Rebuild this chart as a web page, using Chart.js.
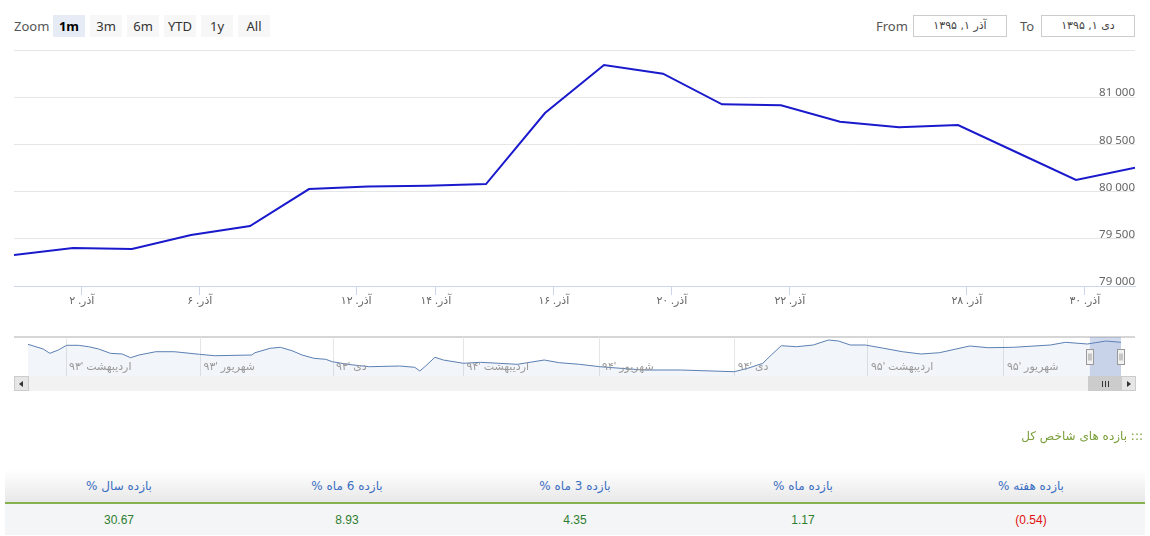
<!DOCTYPE html>
<html>
<head>
<meta charset="utf-8">
<script src="https://cdn.jsdelivr.net/npm/chart.js@4.4.1/dist/chart.umd.min.js"></script>
<style>
  body { margin:0; width:1150px; height:536px; background:#fff; position:relative; overflow:hidden;
         font-family:"Noto Sans","DejaVu Sans",sans-serif; }
  .abs { position:absolute; }
  #zoomLbl { left:14px; top:15px; line-height:22px; font-size:13px; color:#555; }
  .btn { position:absolute; top:15px; width:32px; height:22px; line-height:22px; text-align:center;
         font-size:13px; color:#333; background:#f7f7f7; }
  .btn.on { background:#e6ebf5; font-weight:bold; color:#000; }
  .lbl { position:absolute; top:15px; line-height:22px; font-size:13px; color:#555; }
  .inp { position:absolute; top:15px; width:92px; height:20px; line-height:20px; border:1px solid #ccc;
         text-align:center; font-size:11px; color:#444; font-family:"DejaVu Sans",sans-serif; }
  #main { left:0; top:0; }
  #nav { left:0; top:330px; }
  #navTop { left:14px; top:336px; width:1121px; height:2px; background:#d6d6d6; }
  #track { left:14px; top:376px; width:1121px; height:15px; background:#f2f2f2; }
  .sbtn { position:absolute; top:376px; width:13px; height:13px; background:#e6e6e6; border:1px solid #ccc; }
  .tri { position:absolute; top:4px; width:0; height:0; border-top:3px solid transparent; border-bottom:3px solid transparent; }
  #thumb { left:1088px; top:376px; width:32px; height:13px; background:#ccc; border:1px solid #ccc; }
  .rib { position:absolute; top:4px; width:1px; height:6px; background:#333; }
  #title { right:7px; top:429px; font-size:12px; color:#7a9e3a; font-family:"DejaVu Sans",sans-serif; }
  table { position:absolute; left:5px; top:470px; width:1140px; border-collapse:collapse; table-layout:fixed; }
  th { height:32px; padding:0; font-weight:normal; font-size:12px; color:#3b6ec2;
       background:linear-gradient(#ffffff,#e8e8e8); border-bottom:2px solid #84b24f; font-family:"DejaVu Sans",sans-serif; }
  td { height:31px; padding:0; text-align:center; font-size:12px; color:#2e7d32; background:#f4f5f6;
       font-family:"Liberation Sans",Arial,sans-serif; }
  td.neg { color:#e01010; }
</style>
</head>
<body>

<div class="abs" id="zoomLbl">Zoom</div>
<div class="btn on" style="left:53px">1m</div>
<div class="btn" style="left:90px">3m</div>
<div class="btn" style="left:127px">6m</div>
<div class="btn" style="left:164px">YTD</div>
<div class="btn" style="left:201px">1y</div>
<div class="btn" style="left:238px">All</div>

<div class="lbl" style="left:876px">From</div>
<div class="inp" style="left:913px">آذر ۱, ۱۳۹۵</div>
<div class="lbl" style="left:1020px">To</div>
<div class="inp" style="left:1041px">دی ۱, ۱۳۹۵</div>

<canvas class="abs" id="main" width="1150" height="320"></canvas>

<div class="abs" id="navTop"></div>
<canvas class="abs" id="nav" width="1150" height="50"></canvas>
<div class="abs" id="track"></div>
<div class="sbtn" style="left:14px"><div class="tri" style="left:4px;border-right:4px solid #333"></div></div>
<div class="abs" id="thumb">
  <div class="rib" style="left:13px"></div><div class="rib" style="left:16px"></div><div class="rib" style="left:19px"></div>
</div>
<div class="sbtn" style="left:1121px"><div class="tri" style="left:5px;border-left:4px solid #333"></div></div>

<div class="abs" id="title" dir="rtl">::: بازده های شاخص کل</div>
<table dir="rtl">
  <tr id="headRow"></tr>
  <tr id="valRow"></tr>
</table>

<script>
// ── main chart: trading days of Azar 1395 ──
const days = ['آذر ۱','آذر ۲','آذر ۳','آذر ۶','آذر ۷','آذر ۹','آذر ۱۳','آذر ۱۴','آذر ۱۵','آذر ۱۶',
              'آذر ۱۷','آذر ۲۰','آذر ۲۱','آذر ۲۲','آذر ۲۳','آذر ۲۴','آذر ۲۸','آذر ۲۹','آذر ۳۰','دی ۱'];
const indexValues = [79328, 79402, 79392, 79540, 79635, 80027, 80053, 80063, 80080, 80832,
                     81341, 81249, 80925, 80914, 80740, 80681, 80705, 80414, 80123, 80253];

// x ticks sit a bit after each date (ordinal axis), positions in trading-day units
const xTickPos = [1.15, 3.15, 5.8, 7.15, 9.15, 11.15, 13.15, 16.15, 18.15];
const xTickLabels = ['آذر. ۲','آذر. ۶','آذر. ۱۲','آذر. ۱۴','آذر. ۱۶','آذر. ۲۰','آذر. ۲۲','آذر. ۲۸','آذر. ۳۰'];
const yTicks = [79000, 79500, 80000, 80500, 81000, 81500];

// ── navigator: whole history, in trading-day index ──
const navDays = [0, 9, 13, 18, 23, 30, 36, 42, 49, 56, 61, 66, 76, 87, 102, 111, 133, 135, 144, 150,
                 157, 163, 170, 177, 181, 190, 203, 221, 230, 233, 236, 242, 247, 259, 269, 280, 291, 307, 316, 328,
                 340, 366, 388, 420, 428, 437, 442, 448, 457, 467, 476, 482, 489, 498, 509, 520, 531, 542, 560, 571,
                 586, 608, 617, 630, 641, 650];
const navValues = [79222, 76240, 73507, 75603, 78587, 78587, 77698, 76237, 73507, 73063, 70713, 72428, 74523, 74523, 72872, 71983, 72428, 73888, 76682, 77317,
                   75158, 72428, 70332, 69697, 68173, 66522, 64998, 65443, 64617, 62268, 64998, 70967, 69253, 67157, 67792, 67157, 66522, 69253, 67538, 66522,
                   64998, 62903, 62903, 61823, 63982, 67157, 72428, 78333, 77698, 78778, 81953, 81318, 78778, 78778, 76682, 74523, 73063, 73888, 78143, 77063,
                   77317, 78778, 80492, 79413, 81318, 80492];
const navGridDays = [22.6, 102.6, 181.4, 259, 339.6, 420.3, 499.5, 580.4];
const navLabels = ["اردیبهشت '۹۳", "شهریور '۹۳", "دی '۹۳", "اردیبهشت '۹۴", "شهریور '۹۴", "دی '۹۴", "اردیبهشت '۹۵", "شهریور '۹۵"];
const selFrom = 631.5, selTo = 650;

// ── returns table ──
const periods = ['بازده هفته %', 'بازده ماه %', 'بازده 3 ماه %', 'بازده 6 ماه %', 'بازده سال %'];
const returns = [-0.54, 1.17, 4.35, 8.93, 30.67];

const FONT = '"Noto Sans","DejaVu Sans",sans-serif';
const fmt = v => String(v).replace(/\B(?=(\d{3})+(?!\d))/g, ' ');

new Chart(document.getElementById('main'), {
  type: 'line',
  data: {
    datasets: [{
      data: indexValues.map((v, i) => ({ x: i, y: v })),
      borderColor: '#1a1acc',
      borderWidth: 2,
      pointRadius: 0,
      tension: 0,
      fill: false
    }]
  },
  options: {
    responsive: false,
    animation: false,
    events: [],
    layout: { padding: { left: 14, right: 15, top: 50, bottom: 4 } },
    plugins: { legend: { display: false }, tooltip: { enabled: false } },
    scales: {
      x: {
        type: 'linear', min: 0, max: days.length - 1,
        afterBuildTicks: s => { s.ticks = xTickPos.map(v => ({ value: v })); },
        afterFit: s => { s.height = 30; },
        grid: { drawOnChartArea: false, drawTicks: true, tickLength: 9, color: '#ccd6eb' },
        border: { color: '#ccd6eb' },
        ticks: { padding: -1, color: '#666', maxRotation: 0, autoSkip: false,
                 font: { size: 11, family: FONT },
                 callback: (v, i) => xTickLabels[i] }
      },
      y: {
        position: 'right', min: yTicks[0], max: yTicks[yTicks.length - 1],
        afterBuildTicks: s => { s.ticks = yTicks.map(v => ({ value: v })); },
        afterFit: s => { s.width = 0; },
        grid: { color: '#e6e6e6', drawTicks: false },
        border: { display: false },
        ticks: { mirror: true, padding: 0, labelOffset: -4, color: '#666',
                 font: { size: 11.5, family: FONT },
                 callback: v => v === yTicks[yTicks.length - 1] ? '' : fmt(v) }
      }
    }
  }
});

const navExtras = {
  id: 'navExtras',
  afterDatasetsDraw(chart) {
    const { ctx, chartArea: a, scales: { x } } = chart;
    ctx.save();
    ctx.font = '11px ' + FONT;
    ctx.fillStyle = '#999';
    ctx.textAlign = 'left';
    ctx.textBaseline = 'middle';
    navGridDays.forEach((d, i) => ctx.fillText(navLabels[i], x.getPixelForValue(d) + 3, a.bottom - 9));

    const x0 = x.getPixelForValue(selFrom), x1 = x.getPixelForValue(selTo);
    ctx.fillStyle = 'rgba(102,133,194,0.3)';
    ctx.fillRect(x0, a.top, x1 - x0, a.bottom - a.top);

    const cy = (a.top + a.bottom) / 2;
    [x0, x1].forEach(hx => {
      const px = Math.round(hx) - 3.5, py = Math.round(cy - 7.5) + 0.5;
      ctx.fillStyle = '#f2f2f2';
      ctx.strokeStyle = '#999';
      ctx.lineWidth = 1;
      ctx.fillRect(px, py, 7, 15);
      ctx.strokeRect(px, py, 7, 15);
      ctx.beginPath();
      ctx.moveTo(px + 2.5, py + 4); ctx.lineTo(px + 2.5, py + 11);
      ctx.moveTo(px + 4.5, py + 4); ctx.lineTo(px + 4.5, py + 11);
      ctx.stroke();
    });
    ctx.restore();
  }
};

new Chart(document.getElementById('nav'), {
  type: 'line',
  data: {
    datasets: [{
      data: navDays.map((d, i) => ({ x: d, y: navValues[i] })),
      borderColor: '#5b7fb3',
      borderWidth: 1,
      pointRadius: 0,
      tension: 0,
      fill: 'start',
      backgroundColor: 'rgba(69,114,167,0.07)'
    }]
  },
  options: {
    responsive: false,
    animation: false,
    events: [],
    layout: { padding: { left: 28, right: 29, top: 7, bottom: 4 } },
    plugins: { legend: { display: false }, tooltip: { enabled: false } },
    scales: {
      x: {
        type: 'linear', min: navDays[0], max: navDays[navDays.length - 1],
        afterBuildTicks: s => { s.ticks = navGridDays.map(v => ({ value: v })); },
        afterFit: s => { s.height = 0; },
        ticks: { display: false },
        grid: { color: '#e6e6e6', drawTicks: false },
        border: { display: false }
      },
      y: { display: false, min: 59100, max: 83860 }
    }
  },
  plugins: [navExtras]
});

// table
const headRow = document.getElementById('headRow');
const valRow = document.getElementById('valRow');
periods.forEach((p, i) => {
  const th = document.createElement('th');
  th.textContent = p;
  headRow.appendChild(th);
  const td = document.createElement('td');
  const r = returns[i];
  td.textContent = r < 0 ? '(' + Math.abs(r).toFixed(2) + ')' : r.toFixed(2);
  if (r < 0) td.className = 'neg';
  valRow.appendChild(td);
});
</script>
</body>
</html>
